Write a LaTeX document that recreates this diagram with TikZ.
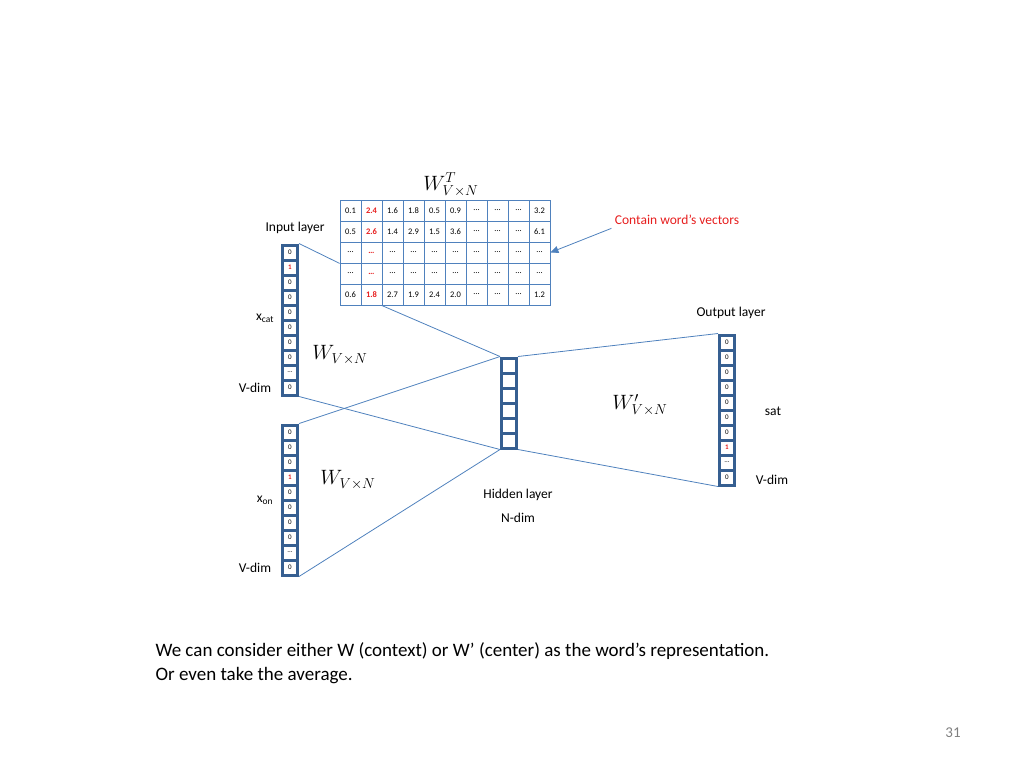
\documentclass[tikz,border=0pt]{standalone}
\usepackage{fontspec}
\setmainfont{Carlito}
\usetikzlibrary{arrows.meta}
\definecolor{linkblue}{RGB}{79,129,189}
\definecolor{cellblue}{RGB}{54,95,145}
\definecolor{hotred}{RGB}{230,30,30}
\begin{document}
\begin{tikzpicture}[x=1pt,y=-1pt]
  \tikzstyle{cell}=[draw=cellblue,line width=3pt,minimum width=15pt,minimum height=15pt,inner sep=0pt,font=\fontsize{7}{7}\selectfont]
  \tikzstyle{mcell}=[draw=linkblue,line width=0.8pt,minimum width=21pt,minimum height=21pt,inner sep=0pt,font=\fontsize{8.5}{8.5}\selectfont]
  \tikzstyle{link}=[linkblue,line width=0.8pt]
  \tikzstyle{lbl}=[font=\fontsize{13.5}{13.5}\selectfont]
  \tikzstyle{wlbl}=[font=\fontsize{21}{21}\selectfont]
  \useasboundingbox (0,0) rectangle (1024,768);

  % matrix W^T
  \foreach \r/\vals in {1/{0.1,\textbf{\color{hotred}2.4},1.6,1.8,0.5,0.9,\dots,\dots,\dots,3.2},
                       2/{0.5,\textbf{\color{hotred}2.6},1.4,2.9,1.5,3.6,\dots,\dots,\dots,6.1},
                       3/{\dots,\textbf{\color{hotred}\dots},\dots,\dots,\dots,\dots,\dots,\dots,\dots,\dots},
                       4/{\dots,\textbf{\color{hotred}\dots},\dots,\dots,\dots,\dots,\dots,\dots,\dots,\dots},
                       5/{0.6,\textbf{\color{hotred}1.8},2.7,1.9,2.4,2.0,\dots,\dots,\dots,1.2}}
    \foreach \v [count=\c] in \vals
      \node[mcell] (M-\r-\c) at ({340+21*\c-10.5},{200+21*\r-10.5}) {\v};

  % input vectors, hidden and output layers
  \foreach \v [count=\i] in {0,\textcolor{hotred}{\textbf{1}},0,0,0,0,0,0,\dots,0}
    \node[cell] (cat-\i) at (290,{245+15*\i-7.5}) {\v};
  \foreach \v [count=\i] in {0,0,0,\textcolor{hotred}{\textbf{1}},0,0,0,0,\dots,0}
    \node[cell] (on-\i) at (290,{425+15*\i-7.5}) {\v};
  \foreach \i in {1,...,6}
    \node[cell] (H-\i) at (509,{358+15*\i-7.5}) {};
  \foreach \v [count=\i] in {0,0,0,0,0,0,0,\textcolor{hotred}{\textbf{1}},\dots,0}
    \node[cell] (out-\i) at (727,{335+15*\i-7.5}) {\v};

  \draw[link] (cat-1.north east) -- (M-3-1.south west);
  \draw[link] (M-5-3.south west) -- (H-1.north west);
  \draw[link] (cat-10.south east) -- (H-6.south west);
  \draw[link] (on-1.north east) -- (H-1.north west);
  \draw[link] (on-10.south east) -- (H-6.south west);
  \draw[link] (H-1.north east) -- (out-1.north west);
  \draw[link] (H-6.south east) -- (out-10.south west);

  % labels
  \node[wlbl] (wt) at (451,185) {$W^T_{V\times N}$};
  \node[lbl] (inlayer) at (295,228) {Input layer};
  \node[lbl] (xcat) at (265,318) {x\textsubscript{cat}};
  \node[wlbl] (w1) at (340,355) {$W_{V\times N}$};
  \node[lbl] (vdim1) at (255,388) {V-dim};
  \node[wlbl] (w2) at (348,480) {$W_{V\times N}$};
  \node[lbl] (xon) at (265,500) {x\textsubscript{on}};
  \node[lbl] (vdim2) at (255,568) {V-dim};
  \node[lbl] (hidden) at (518,495) {Hidden layer};
  \node[lbl] (ndim) at (518,518) {N-dim};
  \node[lbl] (outlayer) at (731,313) {Output layer};
  \node[wlbl] (w3) at (640,405) {$W'_{V\times N}$};
  \node[lbl] (sat) at (773,411) {sat};
  \node[lbl] (vdim3) at (772,480) {V-dim};
  \node[lbl,text=hotred] (note) at (677,220) {Contain word’s vectors};
  \draw[link,-{Triangle[length=8pt,width=7pt]}] (note.south west) -- (M-3-10.east);

  \node[anchor=west,align=left,font=\fontsize{19}{24}\selectfont] (remark) at (152,663)
    {We can consider either W (context) or W’ (center) as the word’s representation.\\Or even take the average.};
  \node[font=\fontsize{15}{15}\selectfont,text=gray] (page) at (953,733) {31};
\end{tikzpicture}
\end{document}
